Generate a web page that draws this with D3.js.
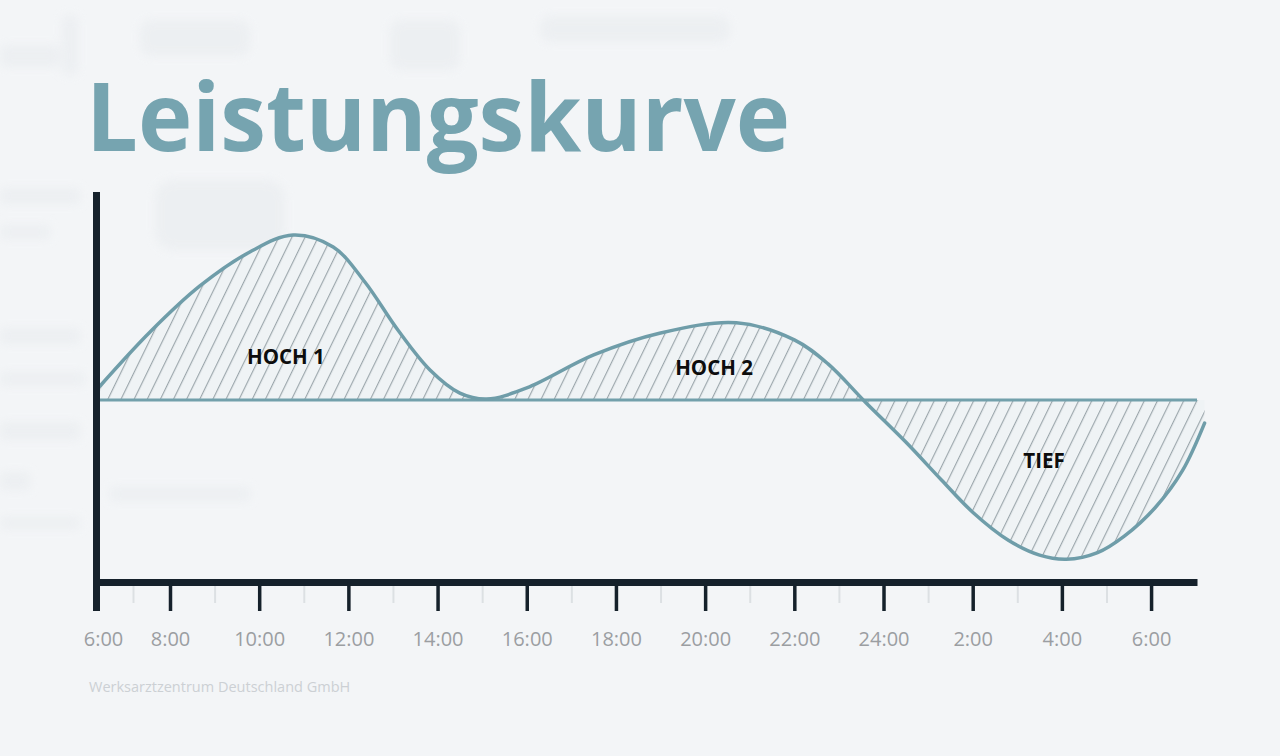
<!DOCTYPE html>
<html>
<head>
<meta charset="utf-8">
<script src="https://cdn.jsdelivr.net/npm/d3@7"></script>
<style>
  html, body { margin: 0; padding: 0; background: #f3f5f7; }
  #chart { width: 1280px; height: 756px; }
  text { font-family: "Open Sans", sans-serif; }
</style>
</head>
<body>
<div id="chart"></div>
<script>

// hours since midnight of day 1 (so 26 = 2:00 next day)
var tickHours = [6, 8, 10, 12, 14, 16, 18, 20, 22, 24, 26, 28, 30];
var tickLabels = ["6:00", "8:00", "10:00", "12:00", "14:00", "16:00", "18:00", "20:00", "22:00", "24:00", "2:00", "4:00", "6:00"];
var minorHours = [7, 9, 11, 13, 15, 17, 19, 21, 23, 25, 27, 29];

// performance curve (peak 1 = 100)
var curveHours  = [6.11, 7.46, 8.67, 9.79, 10.76, 11.66, 12.37, 13.11, 13.83, 14.5, 15.1, 16.0, 17.5, 19.0, 20.7, 22.0, 22.75, 23.6, 24.5, 25.3, 26.0, 26.8, 27.5, 28.1, 28.8, 29.4, 30.1, 30.7, 31.2];
var curveValues = [8.5, 41.2, 69.1, 89.7, 100, 92.7, 71.5, 42.4, 18.2, 4.2, 0.6, 7.3, 27.3, 40.6, 46.8, 36.4, 22, -1.5, -25.5, -48.5, -68, -85, -94, -96.5, -92.5, -82.5, -65, -43, -14];

var phaseNames = ["HOCH 1", "HOCH 2", "TIEF"];
var phaseHours = [10.6, 20.2, 27.6];
var phaseValues = [26, 19.5, -37];

var width = document.querySelector("#chart").clientWidth;
var height = document.querySelector("#chart").clientHeight;

var svg = d3.select("#chart")
    .append("svg")
    .attr("width", width)
    .attr("height", height);

svg.append("rect")
    .attr("width", width)
    .attr("height", height)
    .attr("fill", "#f3f5f7");

var defs = svg.append("defs");

defs.append("filter")
    .attr("id", "soft")
    .append("feGaussianBlur")
    .attr("stdDeviation", 5);

// faint watermark blocks in the background
var ghost = svg.append("g").attr("fill", "#eaedf0").attr("filter", "url(#soft)").attr("opacity", 0.7);
ghost.append("rect").attr("x", 0).attr("y", 45).attr("width", 60).attr("height", 22).attr("rx", 6);
ghost.append("rect").attr("x", 62).attr("y", 15).attr("width", 16).attr("height", 60).attr("rx", 6);
ghost.append("rect").attr("x", 140).attr("y", 20).attr("width", 110).attr("height", 36).attr("rx", 10);
ghost.append("rect").attr("x", 390).attr("y", 20).attr("width", 70).attr("height", 50).attr("rx", 10);
ghost.append("rect").attr("x", 540).attr("y", 16).attr("width", 190).attr("height", 26).attr("rx", 10);
ghost.append("rect").attr("x", 0).attr("y", 188).attr("width", 80).attr("height", 16).attr("rx", 4);
ghost.append("rect").attr("x", 0).attr("y", 225).attr("width", 50).attr("height", 14).attr("rx", 4);
ghost.append("rect").attr("x", 155).attr("y", 180).attr("width", 130).attr("height", 70).attr("rx", 18);
ghost.append("rect").attr("x", 0).attr("y", 328).attr("width", 80).attr("height", 16).attr("rx", 4);
ghost.append("rect").attr("x", 0).attr("y", 372).attr("width", 85).attr("height", 14).attr("rx", 4);
ghost.append("rect").attr("x", 0).attr("y", 422).attr("width", 80).attr("height", 18).attr("rx", 4);
ghost.append("rect").attr("x", 0).attr("y", 472).attr("width", 30).attr("height", 18).attr("rx", 4);
ghost.append("rect").attr("x", 110).attr("y", 487).attr("width", 140).attr("height", 14).attr("rx", 4);
ghost.append("rect").attr("x", 0).attr("y", 517).attr("width", 80).attr("height", 12).attr("rx", 4);

// x is squeezed before 8:00, as in the original graphic
var xScale = d3.scaleLinear()
    .domain([6, 8, 31.03])
    .range([96, 170, 1197]);

var yScale = d3.scaleLinear()
    .domain([0, 100])
    .range([400, 235]);

var points = curveHours.map(function(h, i) { return [h, curveValues[i]]; });

// title
svg.append("text")
    .attr("x", 86)
    .attr("y", 151)
    .attr("fill", "#76a4b0")
    .attr("font-size", 95)
    .attr("font-weight", 700)
    .attr("textLength", 704)
    .attr("lengthAdjust", "spacingAndGlyphs")
    .text("Leistungskurve");

// hatch pattern
var pattern = defs.append("pattern")
    .attr("id", "hatch")
    .attr("patternUnits", "userSpaceOnUse")
    .attr("width", 11.8)
    .attr("height", 11.8)
    .attr("patternTransform", "rotate(26)");
pattern.append("rect")
    .attr("width", 11.8)
    .attr("height", 11.8)
    .attr("fill", "#eff3f5");
pattern.append("line")
    .attr("x1", 0.6).attr("y1", 0)
    .attr("x2", 0.6).attr("y2", 11.8)
    .attr("stroke", "#98a3a8")
    .attr("stroke-width", 1.1);

var smooth = d3.curveCatmullRom.alpha(0.5);

var area = d3.area()
    .x(function(d) { return xScale(d[0]); })
    .y0(yScale(0))
    .y1(function(d) { return yScale(d[1]); })
    .curve(smooth);

svg.append("path")
    .datum(points)
    .attr("d", area)
    .attr("fill", "url(#hatch)");

// zero line
svg.append("line")
    .attr("x1", xScale(6.1))
    .attr("x2", xScale(31.03))
    .attr("y1", yScale(0))
    .attr("y2", yScale(0))
    .attr("stroke", "#72a0ab")
    .attr("stroke-width", 3);

var line = d3.line()
    .x(function(d) { return xScale(d[0]); })
    .y(function(d) { return yScale(d[1]); })
    .curve(smooth);

svg.append("path")
    .datum(points)
    .attr("d", line)
    .attr("fill", "none")
    .attr("stroke", "#6f9da9")
    .attr("stroke-width", 3.5)
    .attr("stroke-linecap", "round");

// phase labels
svg.selectAll(".phase")
    .data(phaseNames)
    .enter()
    .append("text")
    .attr("class", "phase")
    .attr("x", function(d, i) { return xScale(phaseHours[i]); })
    .attr("y", function(d, i) { return yScale(phaseValues[i]); })
    .attr("text-anchor", "middle")
    .attr("dy", "0.35em")
    .attr("font-size", 20.5)
    .attr("font-weight", 700)
    .attr("fill", "#0d0d0d")
    .text(function(d) { return d; });

// minor ticks
var minorAxis = d3.axisBottom(xScale)
    .tickValues(minorHours)
    .tickSize(21)
    .tickFormat("");

var minorG = svg.append("g")
    .attr("transform", "translate(0,582)")
    .call(minorAxis);
minorG.select(".domain").remove();
minorG.selectAll(".tick line")
    .attr("stroke", "#dce0e3")
    .attr("stroke-width", 2);

// major ticks and labels
var xAxisGenerator = d3.axisBottom(xScale)
    .tickValues(tickHours)
    .tickFormat(function(d, i) { return tickLabels[i]; })
    .tickSize(29)
    .tickSizeOuter(0)
    .tickPadding(21);

var xAxis = svg.append("g")
    .attr("transform", "translate(0,582)")
    .call(xAxisGenerator);

xAxis.select(".domain")
    .attr("stroke", "#15212b")
    .attr("stroke-width", 7);

xAxis.selectAll(".tick line")
    .attr("stroke", "#15212b")
    .attr("stroke-width", 3.5);

xAxis.selectAll(".tick text")
    .attr("fill", "#9b9ea2")
    .attr("dx", function(d, i) { return i === 0 ? 7 : 0; })
    .style("font-family", "Open Sans")
    .style("font-size", "20px");

// y axis (no ticks)
svg.append("line")
    .attr("x1", 96.5).attr("x2", 96.5)
    .attr("y1", 192).attr("y2", 611)
    .attr("stroke", "#15212b")
    .attr("stroke-width", 7);

// footer
svg.append("text")
    .attr("x", 89)
    .attr("y", 692)
    .attr("fill", "#ccd0d4")
    .attr("font-size", 14.5)
    .text("Werksarztzentrum Deutschland GmbH");

</script>
</body>
</html>
